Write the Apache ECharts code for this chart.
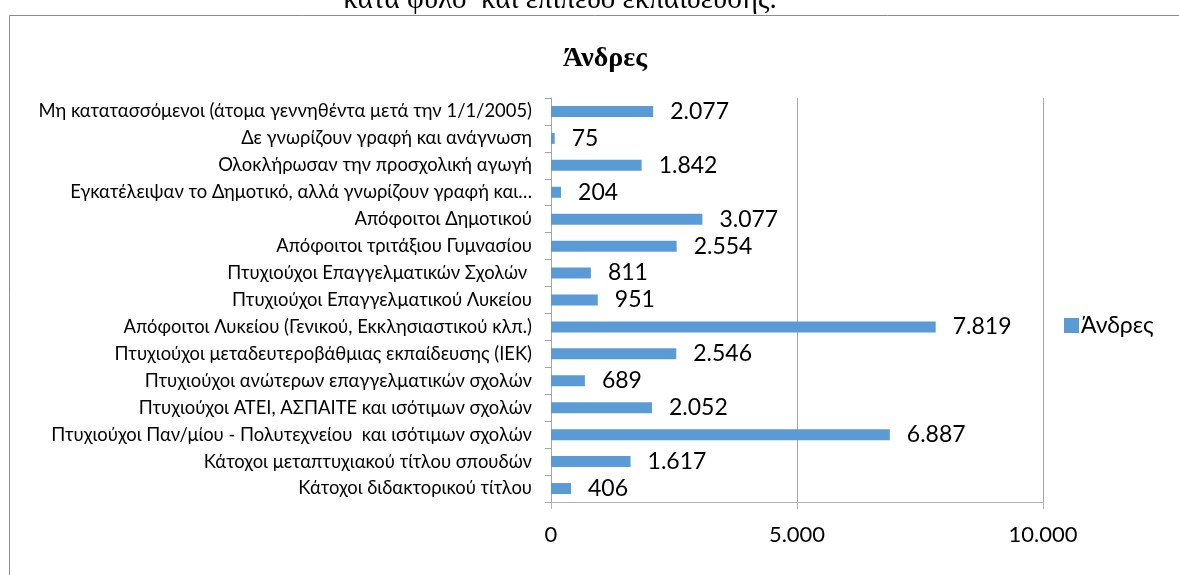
<!DOCTYPE html>
<html>
<head>
<meta charset="utf-8">
<script src="https://cdn.jsdelivr.net/npm/echarts@6/dist/echarts.min.js"></script>
<style>
  html, body { margin: 0; padding: 0; background: #fff; }
  #chart { width: 1179px; height: 575px; }
</style>
</head>
<body>
<div id="chart"></div>
<script>
// categories from top to bottom, as shown in the picture
const categories = [
  'Μη κατατασσόμενοι (άτομα γεννηθέντα μετά την 1/1/2005)',
  'Δε γνωρίζουν γραφή και ανάγνωση',
  'Ολοκλήρωσαν την προσχολική αγωγή',
  'Εγκατέλειψαν το Δημοτικό, αλλά γνωρίζουν γραφή και…',
  'Απόφοιτοι Δημοτικού',
  'Απόφοιτοι τριτάξιου Γυμνασίου',
  'Πτυχιούχοι Επαγγελματικών Σχολών ',
  'Πτυχιούχοι Επαγγελματικού Λυκείου',
  'Απόφοιτοι Λυκείου (Γενικού, Εκκλησιαστικού κλπ.)',
  'Πτυχιούχοι μεταδευτεροβάθμιας εκπαίδευσης (ΙΕΚ)',
  'Πτυχιούχοι ανώτερων επαγγελματικών σχολών',
  'Πτυχιούχοι ΑΤΕΙ, ΑΣΠΑΙΤΕ και ισότιμων σχολών',
  'Πτυχιούχοι Παν/μίου - Πολυτεχνείου  και ισότιμων σχολών',
  'Κάτοχοι μεταπτυχιακού τίτλου σπουδών',
  'Κάτοχοι διδακτορικού τίτλου'
]
const men = [2077, 75, 1842, 204, 3077, 2554, 811, 951, 7819, 2546, 689, 2052, 6887, 1617, 406]
const seriesName = 'Άνδρες'
const axisMin = 0
const axisMax = 10000
const axisStep = 5000

const fmt = (n) => String(n).replace(/\B(?=(\d{3})+(?!\d))/g, '.')

const sans = 'Lato, "Open Sans", sans-serif'
const serif = '"Liberation Serif", "DejaVu Serif", serif'

const chart = echarts.init(document.getElementById('chart'))
chart.setOption({
  backgroundColor: '#fff',
  animation: false,
  title: {
    text: seriesName,
    left: 600,
    top: 40,
    textAlign: 'center',
    textStyle: { fontFamily: serif, fontWeight: 'bold', fontSize: 28, color: '#000' }
  },
  graphic: [
    {
      type: 'rect',
      shape: { x: 9.5, y: 15.5, width: 1300, height: 700 },
      style: { fill: 'none', stroke: '#8c8c8c', lineWidth: 1 },
      z: -1
    },
    {
      type: 'text',
      x: 560,
      y: 15,
      style: {
        text: 'κατά φύλο  και επίπεδο εκπαίδευσης.',
        fontFamily: serif,
        fontSize: 29,
        fill: '#000',
        align: 'center',
        verticalAlign: 'bottom'
      }
    }
  ],
  legend: {
    data: [seriesName],
    left: 1064,
    top: 314,
    padding: 0,
    itemWidth: 15,
    itemHeight: 15,
    icon: 'rect',
    textStyle: { fontFamily: sans, fontSize: 23, color: '#000', padding: [0, 0, 0, -3] }
  },
  grid: { left: 551, right: 136, top: 98, bottom: 73 },
  xAxis: {
    type: 'value',
    min: axisMin,
    max: axisMax,
    interval: axisStep,
    axisLine: { show: true, lineStyle: { color: '#b3b3b3' } },
    axisTick: { show: true, length: 7, lineStyle: { color: '#b3b3b3' } },
    axisLabel: { formatter: fmt, fontFamily: sans, fontSize: 22, color: '#000', margin: 22 },
    splitLine: { show: true, lineStyle: { color: '#a6a6a6' } }
  },
  yAxis: {
    type: 'category',
    data: categories,
    inverse: true,
    axisLine: { show: true, lineStyle: { color: '#a6a6a6' } },
    axisTick: { show: true, length: 6, lineStyle: { color: '#a6a6a6' } },
    axisLabel: { fontFamily: sans, fontSize: 18.4, color: '#000', margin: 19, interval: 0 }
  },
  series: [
    {
      name: seriesName,
      type: 'bar',
      data: men,
      barWidth: 11,
      itemStyle: { color: '#5b9bd5' },
      label: {
        show: true,
        position: 'right',
        distance: 17,
        formatter: (p) => fmt(p.value),
        fontFamily: sans,
        fontSize: 23,
        color: '#000'
      }
    }
  ]
})
</script>
</body>
</html>
